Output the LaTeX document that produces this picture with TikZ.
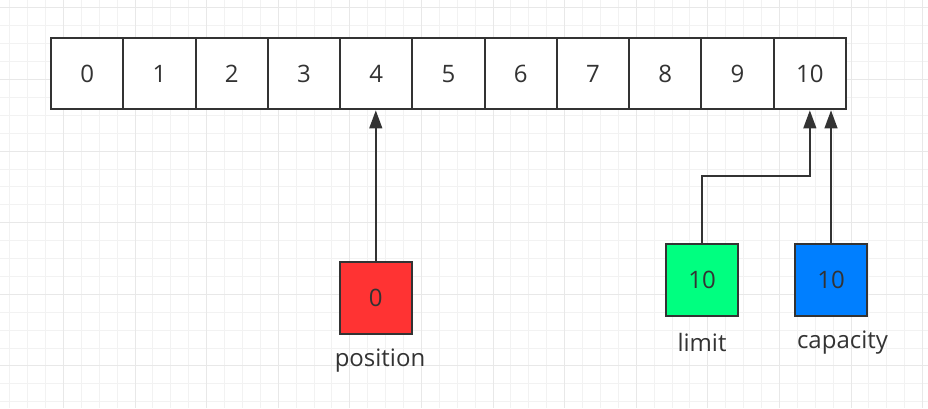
\documentclass[tikz,border=0pt]{standalone}
\usepackage{fontspec}
\setmainfont{Open Sans}
\usetikzlibrary{arrows.meta}
\definecolor{ink}{HTML}{333333}
\definecolor{posred}{HTML}{FF3333}
\definecolor{limgreen}{HTML}{00FF80}
\definecolor{capblue}{HTML}{007FFF}
\tikzset{
    minor grid/.style={draw=black!5, line width=0.8pt},
    major grid/.style={draw=black!9, line width=0.8pt},
    array cell/.style={draw=ink, line width=2pt, fill=white, text=ink,
        minimum width=72.27pt, minimum height=71pt, inner sep=0pt,
        font=\fontsize{24}{28}\selectfont},
    pointer box/.style={array cell, minimum width=72pt, minimum height=72pt},
    pointer label/.style={text=ink, anchor=base, inner sep=0pt,
        font=\fontsize{24}{28}\selectfont},
    pointer/.style={draw=ink, line width=2pt,
        -{Triangle[length=18pt, width=12.7pt]}}
}
\begin{document}
\begin{tikzpicture}[x=1pt, y=-1pt]
        \useasboundingbox (0,0) rectangle (928,408);
        % background grid
        \fill[white] (0,0) rectangle (928,408);
        \begin{scope}
        \clip (0,0) rectangle (928,408);
        \foreach \i in {0,...,52}
            \draw[minor grid] ({-8.3+17.9*\i},0) -- ++(0,408);
        \foreach \i in {0,...,22}
            \draw[minor grid] (0,{7.8+17.9*\i}) -- ++(928,0);
        \foreach \i in {0,...,13}
            \draw[major grid] ({-8.3+71.6*\i},0) -- ++(0,408);
        \foreach \i in {0,...,5}
            \draw[major grid] (0,{7.8+71.6*\i}) -- ++(928,0);
        \end{scope}

        %buffer cells
        \foreach \i in {0,...,10}
            \node[array cell](c\i) at ({51+72.27*(\i+0.5)},73.8){\i};

        %pointers
        \node[pointer box, fill=posred](position) at (375.8,298){0};
        \node[pointer box, fill=limgreen](limit) at (702,280){10};
        \node[pointer box, fill=capblue](capacity) at (831,280){10};

        \node[pointer label](position label) at (380,366.5){position};
        \node[pointer label](limit label) at (702,351.5){limit};
        \node[pointer label](capacity label) at (842.5,348){capacity};

        %arrows
        \draw[pointer] (position.north) -- (position.north |- c4.south);
        \draw (limit.north) ++(0,-67.3) coordinate(L);
        \draw[pointer] (limit.north) -- (L) -| (c10.south);
        \draw[pointer] (capacity.north) -- (capacity.north |- c10.south);
        
        \end{tikzpicture}
\end{document}
